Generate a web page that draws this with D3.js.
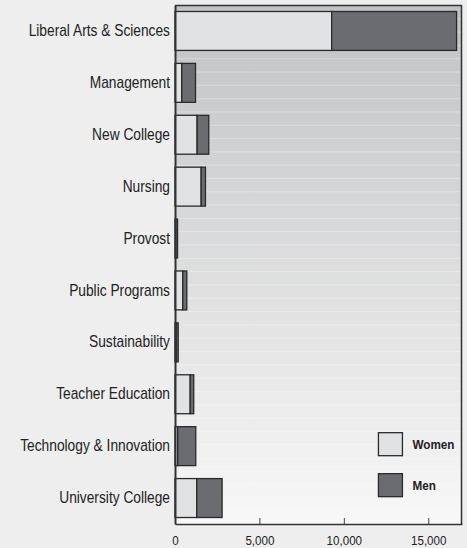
<!DOCTYPE html>
<html>
<head>
<meta charset="utf-8">
<script src="https://cdn.jsdelivr.net/npm/d3@7"></script>
<style>
	body { margin: 0; background: #eeeeee; }
	svg { display: block; font-family: 'Liberation Sans', Arial, sans-serif; }
</style>
</head>
<body>
<div id="chart"></div>
<script>
const colleges = [
	'Liberal Arts & Sciences', 'Management', 'New College', 'Nursing', 'Provost',
	'Public Programs', 'Sustainability', 'Teacher Education', 'Technology & Innovation', 'University College'
];
const women = [ 9280, 400, 1310, 1550, 40, 460, 70, 900, 165, 1290 ];
const men = [ 7400, 815, 690, 255, 110, 240, 120, 210, 1065, 1500 ];
const seriesNames = [ 'Women', 'Men' ];
const xTicks = [ 0, 5000, 10000, 15000 ];

let dimensions = {
	width  : 467,
	height : 548,
	margin : { top: 5, right: 5, bottom: 24, left: 175 }
};
dimensions.boundedWidth = dimensions.width - dimensions.margin.left - dimensions.margin.right;
dimensions.boundedHeight = dimensions.height - dimensions.margin.top - dimensions.margin.bottom;

// the reference uses a condensed face; squeeze Liberation Sans horizontally
const squeeze = 0.86;

const data = colleges.map((c, i) => ({ college: c, Women: women[i], Men: men[i] }));
const stacked = d3.stack().keys(seriesNames)(data);

const color = d3.scaleOrdinal().domain(seriesNames).range([ '#e1e2e4', '#6b6c6f' ]);

const svg = d3.select('#chart').append('svg')
	.attr('width', dimensions.width)
	.attr('height', dimensions.height);

const defs = svg.append('defs');
const grad = defs.append('linearGradient').attr('id', 'bg').attr('x1', 0).attr('x2', 0).attr('y1', 0).attr('y2', 1);
grad.append('stop').attr('offset', '0%').attr('stop-color', '#c1c2c4');
grad.append('stop').attr('offset', '100%').attr('stop-color', '#f8f8f8');

const bounds = svg.append('g')
	.attr('transform', `translate(${dimensions.margin.left}, ${dimensions.margin.top})`);

const x = d3.scaleLinear().domain([ 0, 17000 ]).range([ 0, dimensions.boundedWidth ]);
const y = d3.scaleBand().domain(colleges).range([ 0, dimensions.boundedHeight ])
	.paddingInner(0.25)
	.paddingOuter(0.125);

// plot background
bounds.append('rect')
	.attr('width', dimensions.boundedWidth)
	.attr('height', dimensions.boundedHeight)
	.attr('fill', 'url(#bg)');

// faint banding lines
const bandLines = d3.range(1, 39).map(i => i * dimensions.boundedHeight / 39);
bounds.append('g').selectAll('line')
	.data(bandLines)
	.join('line')
	.attr('x1', 0)
	.attr('x2', dimensions.boundedWidth)
	.attr('y1', d => d + 0.5)
	.attr('y2', d => d + 0.5)
	.attr('stroke', '#ffffff')
	.attr('stroke-opacity', 0.3);

// bars
bounds.append('g').selectAll('g')
	.data(stacked)
	.join('g')
	.attr('fill', d => color(d.key))
	.selectAll('rect')
	.data(d => d)
	.join('rect')
	.attr('x', d => x(d[0]))
	.attr('y', d => y(d.data.college))
	.attr('width', d => x(d[1]) - x(d[0]))
	.attr('height', y.bandwidth())
	.attr('stroke', '#2a2a2a')
	.attr('stroke-width', 1.3);

// frame: top + right
bounds.append('path')
	.attr('d', `M0,0.5H${dimensions.boundedWidth - 0.5}V${dimensions.boundedHeight}`)
	.attr('fill', 'none')
	.attr('stroke', '#333')
	.attr('stroke-width', 1.5);

// x axis
const xAxis = bounds.append('g')
	.attr('transform', `translate(0, ${dimensions.boundedHeight})`)
	.call(d3.axisBottom(x).tickValues(xTicks).tickFormat(d3.format(',')).tickSizeInner(-6).tickSizeOuter(0).tickPadding(11));
xAxis.select('.domain').attr('stroke', '#333').attr('stroke-width', 1.5);
xAxis.selectAll('.tick line').attr('stroke', '#444');
xAxis.selectAll('text')
	.attr('font-size', 13.5)
	.attr('fill', '#222')
	.attr('transform', `scale(${squeeze},1)`);

// y axis
const yAxis = bounds.append('g')
	.call(d3.axisLeft(y).tickSize(0).tickPadding(5));
yAxis.select('.domain').attr('stroke', '#333').attr('stroke-width', 2);
yAxis.selectAll('text')
	.attr('x', 0)
	.attr('font-size', 16)
	.attr('fill', '#222')
	.attr('transform', `translate(-5,0) scale(${squeeze},1)`);

// legend
const legend = bounds.append('g')
	.attr('transform', `translate(${x(12050)}, ${y('Technology & Innovation') + 6})`);
const items = legend.selectAll('g')
	.data(seriesNames)
	.join('g')
	.attr('transform', (d, i) => `translate(0, ${i * 41})`);
items.append('rect')
	.attr('width', 24)
	.attr('height', 23)
	.attr('fill', d => color(d))
	.attr('stroke', '#2a2a2a')
	.attr('stroke-width', 1.3);
items.append('text')
	.attr('x', 0)
	.attr('y', 12)
	.attr('dy', '0.35em')
	.attr('font-size', 13)
	.attr('font-weight', 'bold')
	.attr('fill', '#222')
	.attr('transform', `translate(34,0) scale(0.9,1)`)
	.text(d => d);
</script>
</body>
</html>
